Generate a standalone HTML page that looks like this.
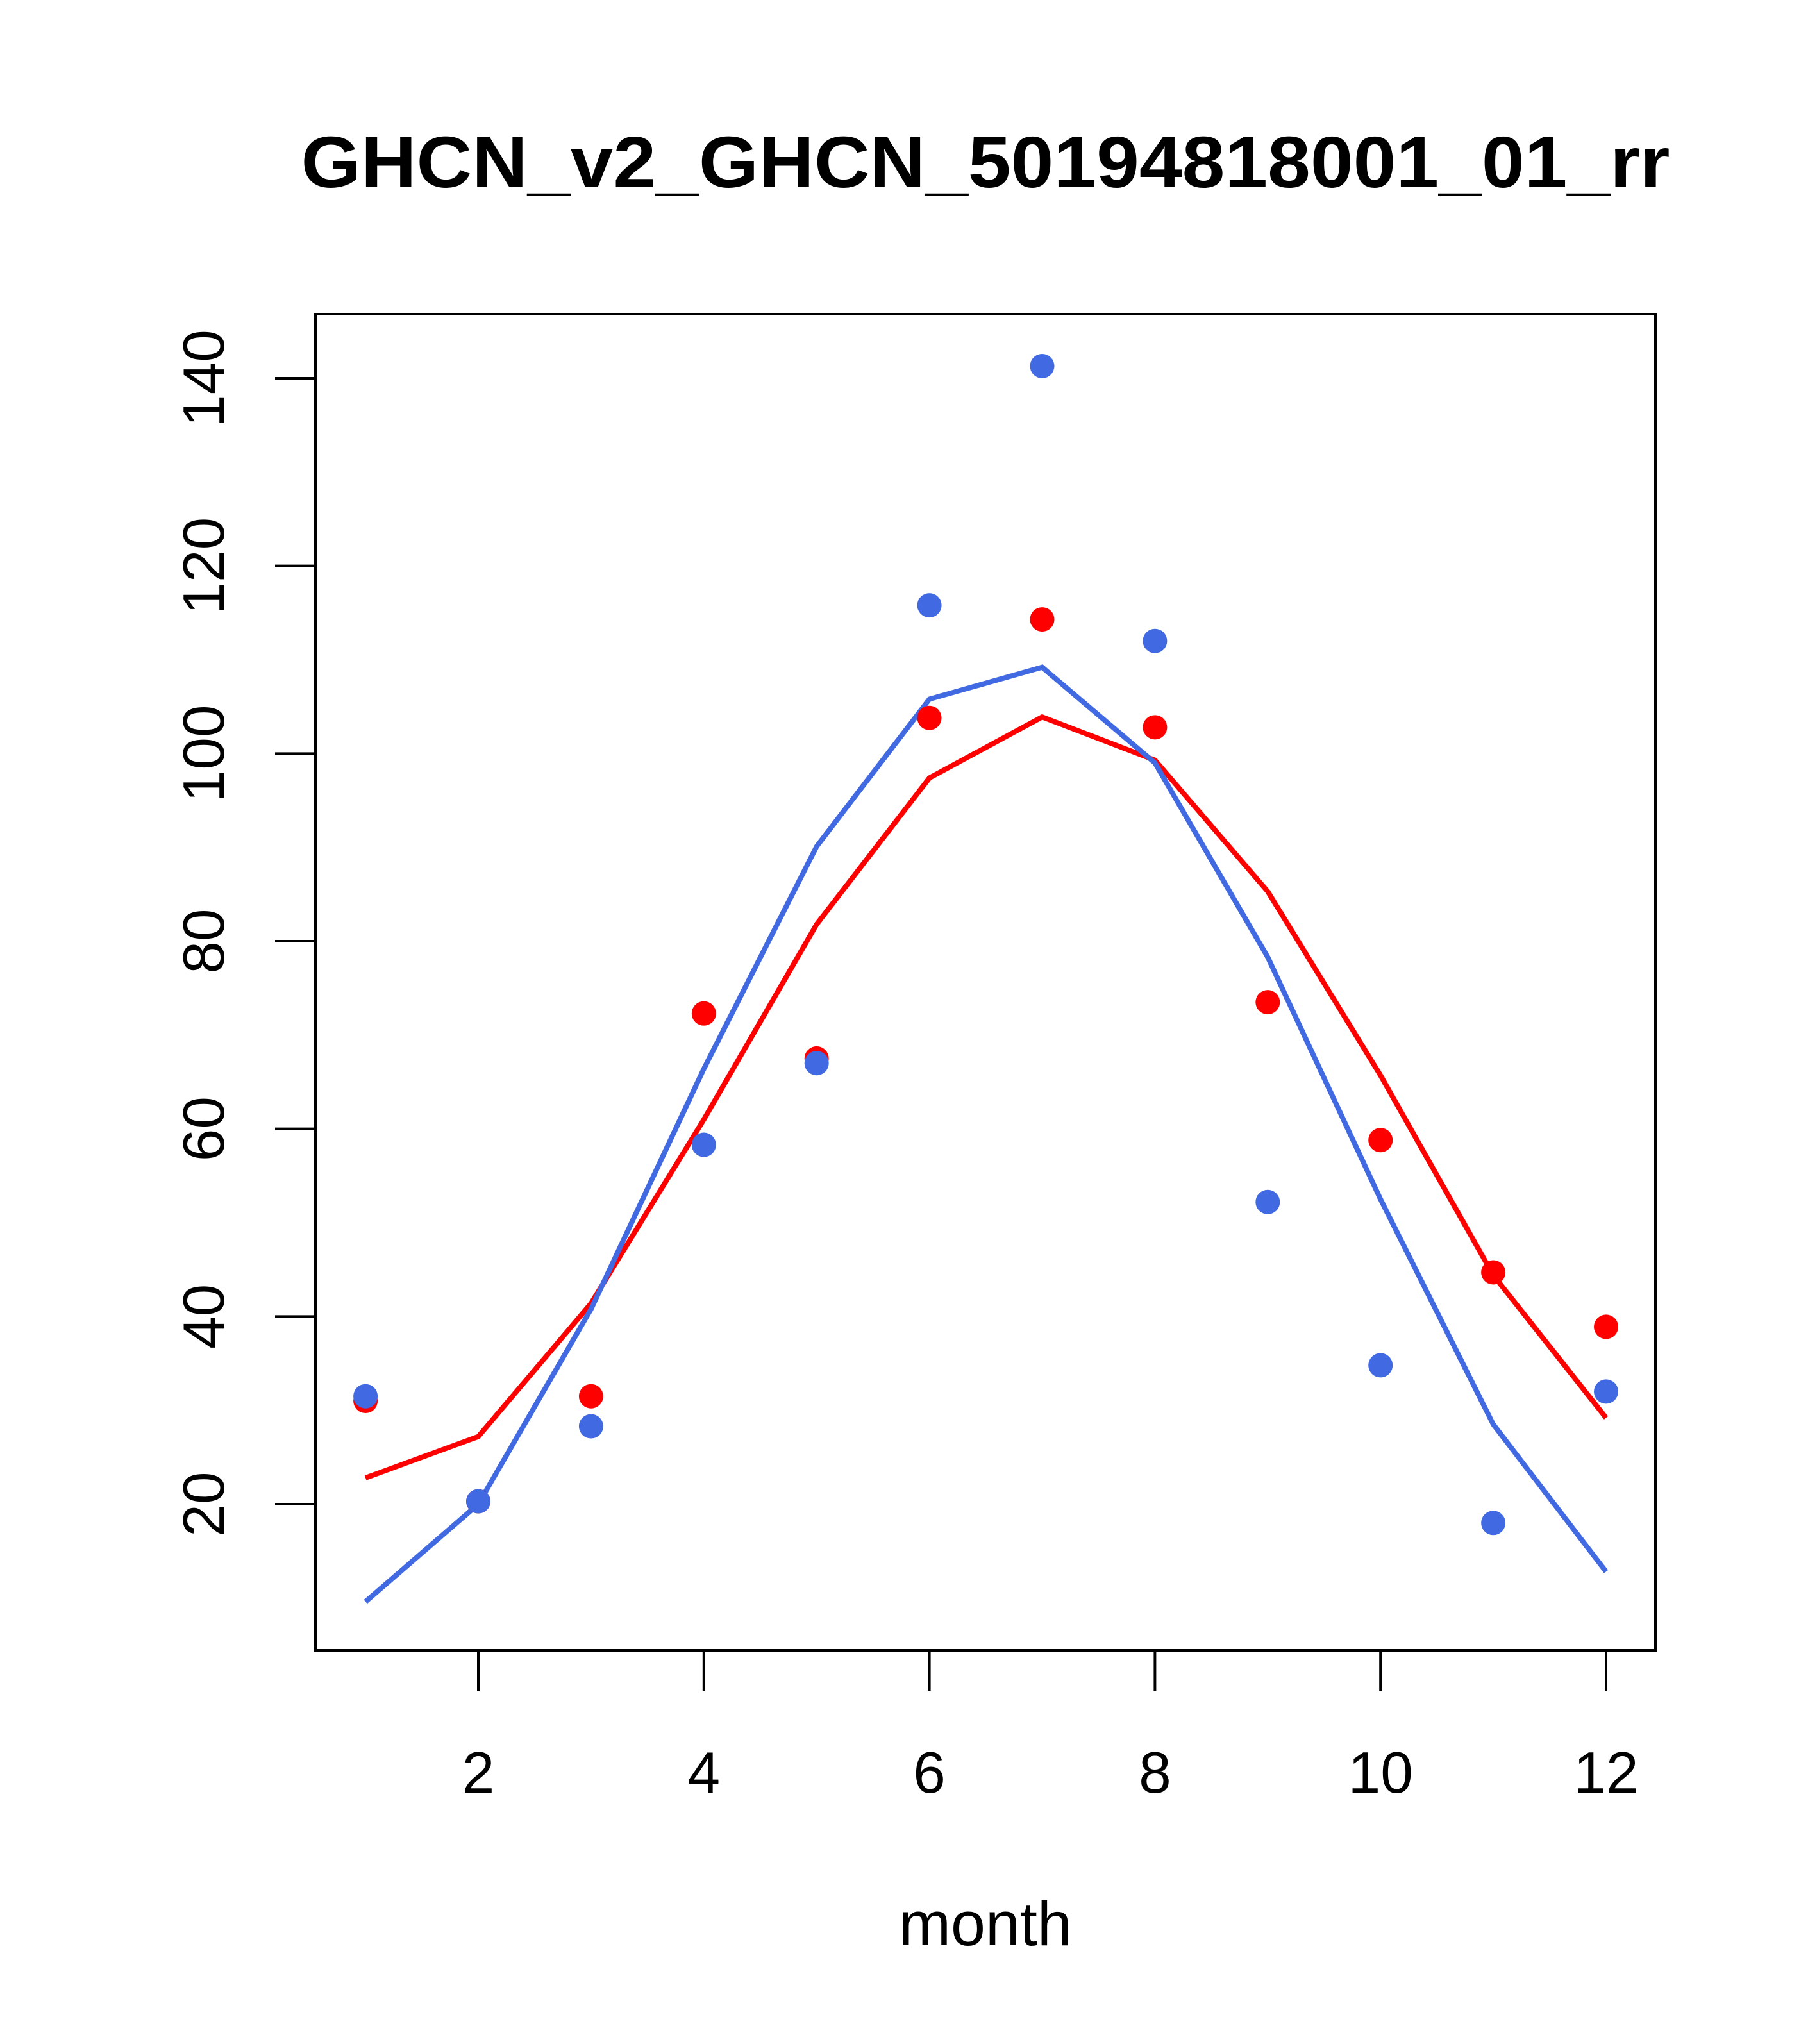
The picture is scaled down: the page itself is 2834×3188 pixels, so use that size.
<!DOCTYPE html>
<html><head><meta charset="utf-8"><style>html,body{margin:0;padding:0;background:#fff}svg{display:block}text{font-family:"Liberation Sans",Arial,sans-serif}</style></head>
<body>
<svg id="chart" width="2834" height="3188" viewBox="0 0 2834 3188" xmlns="http://www.w3.org/2000/svg">
<rect width="2834" height="3188" fill="#fff"/>
<text x="1537" y="292" text-anchor="middle" font-size="113" font-weight="bold" textLength="2135" lengthAdjust="spacingAndGlyphs">GHCN_v2_GHCN_50194818001_01_rr</text>
<rect x="492" y="490" width="2090" height="2084" fill="none" stroke="#000" stroke-width="4"/>
<g id="xaxis"></g>
<g id="yaxis"></g>
<text x="1537" y="3034" text-anchor="middle" font-size="97">month</text>
<g id="marks"></g>
</svg>
<script>
const months=[1,2,3,4,5,6,7,8,9,10,11,12];
const redPoints=[31,20.3,31.5,72.3,67.5,103.8,114.3,102.8,73.5,58.8,44.7,38.9];
const bluePoints=[31.5,20.3,28.3,58.3,67,115.8,141.3,112,52.2,34.8,18,32];
const redLine=[22.8,27.2,41.4,61,81.8,97.4,103.9,99.3,85.3,65.7,44.4,29.2];
const blueLine=[9.6,20,40.8,66.4,90.1,105.8,109.2,99,78.3,52.5,28.5,12.8];
const xTicks=[2,4,6,8,10,12];
const yTicks=[20,40,60,80,100,120,140];
const NS="http://www.w3.org/2000/svg";
const x=m=>746+(m-2)*(2505-746)/10;
const y=v=>2346-(v-20)*(2346-590)/120;
function mk(tag,attrs,parent){const e=document.createElementNS(NS,tag);for(const k in attrs)e.setAttribute(k,attrs[k]);parent.appendChild(e);return e;}
const xa=document.getElementById('xaxis'),ya=document.getElementById('yaxis'),g=document.getElementById('marks');
mk('line',{x1:x(2),x2:x(12),y1:2574,y2:2574,stroke:'#000','stroke-width':4},xa);
xTicks.forEach(t=>{
 const l=mk('line',{x1:x(t),x2:x(t),y1:2574,y2:2637,stroke:'#000','stroke-width':4},xa);
 
 
 const tx=mk('text',{x:x(t),y:2796,'text-anchor':'middle','font-size':91},xa);
 tx.textContent=t;
 
 
});
yTicks.forEach(t=>{
 const l=mk('line',{x1:429,x2:492,y1:y(t),y2:y(t),stroke:'#000','stroke-width':4},ya);
 
 
 const tx=mk('text',{x:0,y:0,'text-anchor':'middle','font-size':91,transform:`translate(349,${y(t)}) rotate(-90)`},ya);
 tx.textContent=t;
 
 
});
function line(vals,col,name){
 const p=mk('polyline',{points:months.map((m,i)=>x(m)+','+y(vals[i])).join(' '),fill:'none',stroke:col,'stroke-width':8},g);
 
 
}
function pts(vals,col,name){
 months.forEach((m,i)=>{
  const c=mk('circle',{cx:x(m),cy:y(vals[i]),r:19,fill:col},g);
  
  
 });
}
line(redLine,'#ff0000','red-line');
line(blueLine,'#4169e1','blue-line');
pts(redPoints,'#ff0000','red-point');
pts(bluePoints,'#4169e1','blue-point');
</script>
</body></html>
